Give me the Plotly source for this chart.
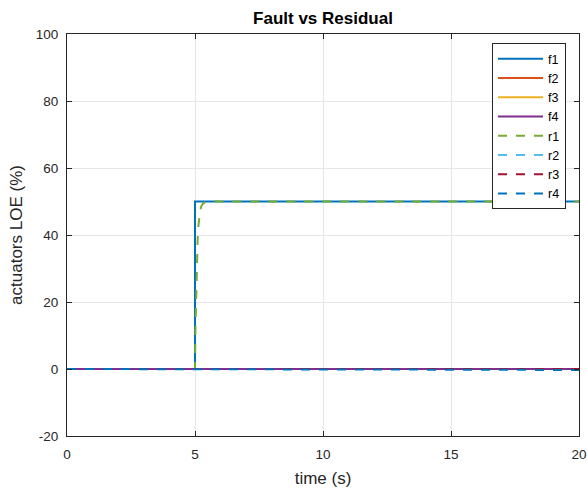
import plotly.graph_objects as go

# ---- data ----
t_f1 = [0, 5, 5, 20]
f1 = [0, 0, 50, 50]
t_flat = [0, 20]
f2 = [0, 0]
f3 = [0, 0]
f4 = [0, 0]
t_r1 = [0, 5.0, 5.02, 5.04, 5.06, 5.08, 5.1, 5.13, 5.16, 5.2, 5.25, 5.3, 5.4, 5.5, 20]
r1 = [0, 0, 12.5, 21.8, 28.8, 34.0, 38.0, 42.5, 45.0, 47.3, 48.6, 49.3, 49.8, 50.0, 50.0]
r2 = [0, 0]
r3 = [0, 0]
t_r4 = [0, 5, 10, 15, 20]
r4 = [0, 0, -0.1, -0.2, -0.3]

x_ticks = [0, 5, 10, 15, 20]
y_ticks = [-20, 0, 20, 40, 60, 80, 100]
y_ticklabels = ["-20", "0", "20", "40", "60", "80", "100"]

colors = ["#0072BD", "#D95319", "#EDB120", "#7E2F8E", "#77AC30", "#4DBEEE", "#A2142F", "#0072BD"]
FONT = "Liberation Sans, Arial, Helvetica, sans-serif"
AX = "#262626"

fig = go.Figure()
series = [
    ("f1", t_f1, f1, "solid"),
    ("f2", t_flat, f2, "solid"),
    ("f3", t_flat, f3, "solid"),
    ("f4", t_flat, f4, "solid"),
    ("r1", t_r1, r1, "9px,9px"),
    ("r2", t_flat, r2, "9px,9px"),
    ("r3", t_flat, r3, "9px,9px"),
    ("r4", t_r4, r4, "9px,9px"),
]
for (name, x, y, dash), c in zip(series, colors):
    fig.add_trace(go.Scatter(x=x, y=y, mode="lines", name=name,
                             line=dict(color=c, width=2, dash=dash)))

axis_common = dict(
    showline=True, linecolor=AX, linewidth=1, mirror="ticks",
    ticks="inside", ticklen=5, tickcolor=AX, tickwidth=1,
    showgrid=True, gridcolor="#e6e6e6", gridwidth=1, zeroline=False,
    tickfont=dict(family=FONT, size=13.5, color=AX), automargin=False,
)
fig.update_xaxes(range=[0, 20], tickvals=x_ticks, ticklabelstandoff=6,
                 title=dict(text="time (s)", font=dict(family=FONT, size=17, color=AX), standoff=10),
                 **axis_common)
fig.update_yaxes(range=[-20, 100], tickvals=y_ticks, ticktext=y_ticklabels, ticklabelstandoff=5,
                 title=dict(text="actuators LOE (%)", font=dict(family=FONT, size=17, color=AX), standoff=8),
                 **axis_common)

fig.update_layout(
    width=587, height=488,
    margin=dict(l=67, r=8, t=34, b=52, autoexpand=False),
    paper_bgcolor="white", plot_bgcolor="white",
    title=dict(text="<b>Fault vs Residual</b>", x=(67 + 579) / 2 / 587, xanchor="center",
               y=1 - 18 / 488, yanchor="middle", yref="container",
               font=dict(family=FONT, size=17, color="black")),
    legend=dict(x=0.9746, xanchor="right", y=0.9776, yanchor="top",
                bordercolor=AX, borderwidth=1, bgcolor="white",
                font=dict(family=FONT, size=12.5, color="black"),
                tracegroupgap=0, itemwidth=45),
    showlegend=True,
)

fig.write_html(
    "out.html",
    config={"displayModeBar": False},
    post_script="document.body.style.margin='0';document.body.style.overflow='hidden';",
)
